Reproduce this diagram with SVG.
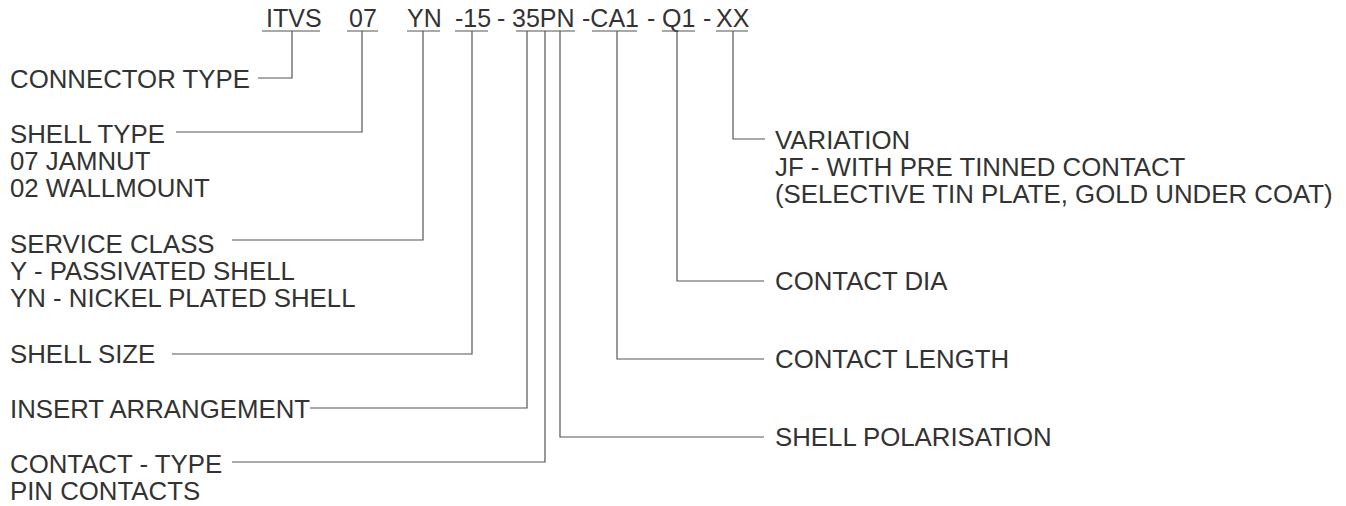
<svg xmlns="http://www.w3.org/2000/svg" width="1346" height="506" viewBox="0 0 1346 506">
<style>
text{font-family:"Liberation Sans",Arial,sans-serif;font-size:25.8px;fill:#333}
#code text{font-size:25px}
.ln{fill:none;stroke:#555;stroke-width:1.2}
</style>
<rect width="1346" height="506" fill="#fff"/>
<g id="code">
<text x="266" y="27">ITVS</text>
<text x="349" y="27">07</text>
<text x="407" y="27">YN</text>
<text x="455" y="27">-15</text>
<text x="497" y="27">-</text>
<text x="512" y="27">35PN</text>
<text x="582" y="27">-CA1</text>
<text x="647" y="27">-</text>
<text x="662" y="27">Q1</text>
<text x="703" y="27">-</text>
<text x="716" y="27">XX</text>
</g>
<g id="underlines" class="ln">
<path d="M262 31H320M347 31H378M407 31H440M455 31H488M516 31H575M592 31H637M662 31H695M716 31H748"/>
</g>
<g id="n-connector-type"><text x="10" y="88">CONNECTOR TYPE</text></g>
<g id="n-shell-type"><text x="10" y="143">SHELL TYPE</text><text x="10" y="170">07 JAMNUT</text><text x="10" y="197">02 WALLMOUNT</text></g>
<g id="n-service-class"><text x="10" y="253">SERVICE CLASS</text><text x="10" y="280">Y - PASSIVATED SHELL</text><text x="10" y="307">YN - NICKEL PLATED SHELL</text></g>
<g id="n-shell-size"><text x="10" y="363">SHELL SIZE</text></g>
<g id="n-insert"><text x="10" y="418">INSERT ARRANGEMENT</text></g>
<g id="n-contact-type"><text x="10" y="473">CONTACT - TYPE</text><text x="10" y="500">PIN CONTACTS</text></g>
<g id="n-variation"><text x="775" y="149">VARIATION</text><text x="775" y="176">JF - WITH PRE TINNED CONTACT</text><text x="775" y="203">(SELECTIVE TIN PLATE, GOLD UNDER COAT)</text></g>
<g id="n-contact-dia"><text x="775" y="290">CONTACT DIA</text></g>
<g id="n-contact-length"><text x="775" y="368">CONTACT LENGTH</text></g>
<g id="n-shell-pol"><text x="775" y="446">SHELL POLARISATION</text></g>
<g id="connectors" class="ln">
<path d="M292 31V78H258"/>
<path d="M362 31V132H176"/>
<path d="M423 31V240H232"/>
<path d="M472 31V354H172"/>
<path d="M527 31V408H310"/>
<path d="M545 31V462H232"/>
<path d="M560 31V437H764"/>
<path d="M617 31V359H764"/>
<path d="M677 31V281H764"/>
<path d="M733 31V139H765"/>
</g>
</svg>
